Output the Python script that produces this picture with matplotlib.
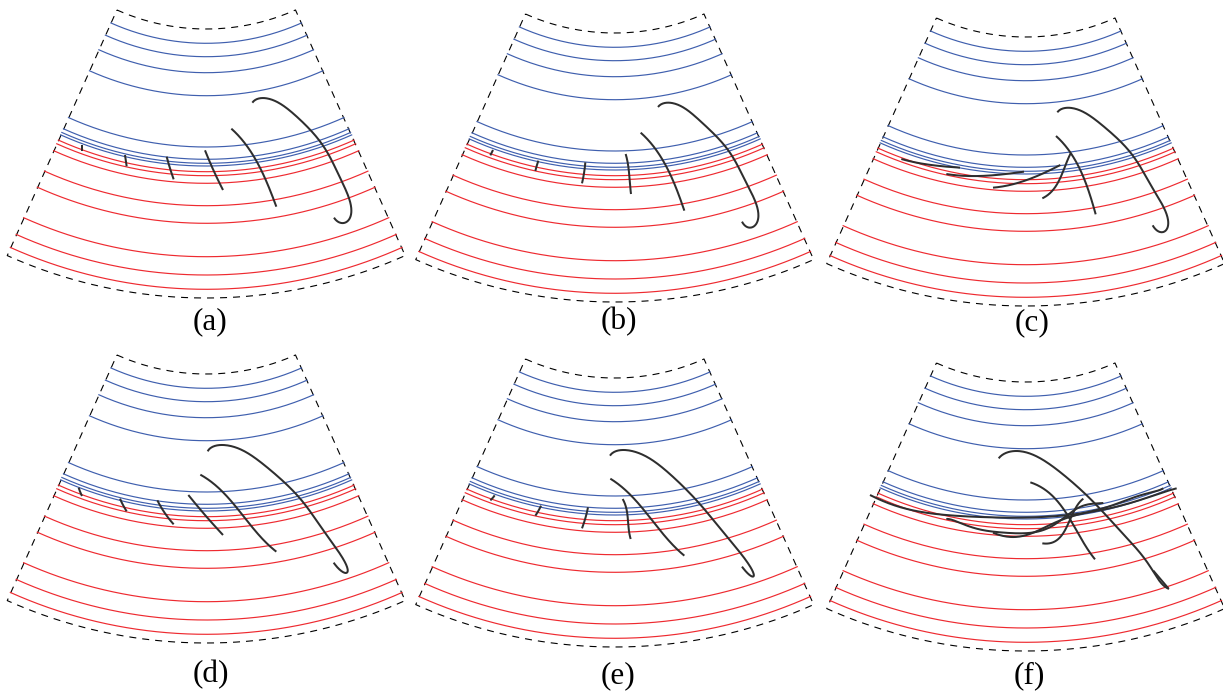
import numpy as np
import matplotlib
matplotlib.use("Agg")
import matplotlib.pyplot as plt
from numpy.polynomial import Polynomial

plt.rcParams['font.family'] = ['Liberation Serif', 'DejaVu Serif']

# Radii of the layer boundaries, measured from the fan apex (pixels)
blue_radii = [233.3, 246.7, 262.7, 285.7, 337.0, 349.3, 353.3, 356.0]
red_radii = [361.7, 365.7, 373.3, 395.7, 413.3, 446.7, 465.0, 479.3]
inner_radius = 219.0
outer_radius = 488.0
fan_half_angle = 24.06
arc_half_angle = 24.12

panel_names = ["(a)", "(b)", "(c)", "(d)", "(e)", "(f)"]
apex_x = [206.2, 614.7, 1025.7, 206.2, 614.7, 1025.7]
apex_y = [-190.0, -186.0, -182.0, 155.0, 159.0, 163.0]
crop_x = [0, 410, 820, 0, 410, 820]
crop_y = [0, 0, 0, 345, 345, 345]
label_x = [210, 619, 1032, 211, 618, 1029]
label_y = [322, 322, 323, 675, 676, 676]

# Ray paths, (x, y) at triple scale inside each panel
rays_a = [
    [(757,308),(785,295),(815,298),(860,325),(910,368),(960,425),(1000,490),(1035,565),(1052,625),(1052,655),(1040,670),(1022,665),(1002,653)],
    [(694,386),(725,415),(760,470),(795,535),(815,580),(829,620)],
    [(615,451),(640,510),(669,570)],
    [(500,470),(510,505),(521,538)],
    [(375,465),(378,485),(380,499)],
    [(245,434),(245,453)],
]
rays_b = [
    [(744,321),(770,309),(800,312),(850,345),(900,390),(950,445),(990,510),(1025,580),(1043,640),(1043,670),(1030,684),(1012,678),(996,665)],
    [(692,398),(725,430),(760,485),(795,560),(815,600),(823,632)],
    [(647,462),(655,500),(659,540),(663,582)],
    [(526,487),(522,520),(516,550)],
    [(385,482),(380,498),(376,513)],
    [(249,450),(245,458),(241,466)],
]
rays_c = [
    [(712,337),(740,324),(770,327),(820,355),(870,395),(920,445),(970,515),(1010,585),(1040,650),(1046,680),(1038,698),(1020,692),(998,676)],
    [(708,408),(740,440),(770,490),(800,560),(820,610),(827,643)],
    [(752,460),(735,500),(715,545),(695,575),(667,595)],
    [(721,495),(670,520),(620,540),(570,555),(519,563)],
    [(612,515),(540,524),(470,528),(420,527),(379,522)],
    [(420,503),(350,497),(290,488),(244,477)],
]
rays_d = [
    [(623,319),(645,304),(675,300),(720,312),(780,350),(840,400),(890,450),(950,525),(1000,600),(1035,655),(1050,680),(1043,690),(1025,675),(1001,653)],
    [(601,389),(640,415),(690,465),(740,525),(790,585),(829,620)],
    [(565,450),(615,510),(669,570)],
    [(472,466),(495,505),(521,538)],
    [(360,461),(370,482),(380,499)],
    [(236,428),(241,442),(246,453)],
]
rays_e = [
    [(600,332),(620,319),(650,315),(700,330),(760,370),(820,425),(880,490),(940,560),(990,625),(1025,675),(1040,697),(1030,698),(1010,682),(996,665)],
    [(601,401),(640,430),(690,480),(740,545),(790,600),(823,632)],
    [(638,462),(650,495),(655,540),(662,582)],
    [(534,487),(526,520),(516,550)],
    [(393,482),(385,498),(376,512)],
    [(254,451),(248,459),(241,466)],
]
rays_f = [
    [(536,340),(560,323),(595,318),(640,330),(700,365),(760,415),(820,470),(880,535),(940,600),(1000,680),(1047,732)],
    [(1000,677),(1022,703),(1045,730)],
    [(631,412),(670,430),(710,465),(750,525),(790,590),(825,643)],
    [(790,461),(770,480),(750,530),(720,575),(695,595),(667,595)],
    [(519,563),(570,576),(610,572),(660,555),(710,530),(770,510),(810,500),(850,490),(900,472),(950,455),(990,443),(1030,430)],
    [(379,522),(450,545),(520,560),(600,565),(670,555),(730,520),(760,497),(790,482),(820,476),(850,474)],
    [(150,450),(220,480),(300,500),(400,512),(520,517),(640,517),(730,512),(800,502),(870,490),(960,465),(1070,430)],
]
all_rays = [rays_a, rays_b, rays_c, rays_d, rays_e, rays_f]

BLUE = "#3f5fae"
RED = "#ee2a30"
INK = "#2e2e2e"


def smooth_xy(pts):
    """Smooth parametric least-squares curve through the read points."""
    p = np.asarray(pts, float)
    n = len(p)
    if n <= 3:
        deg = n - 1
    elif n <= 6:
        deg = 3
    else:
        deg = max(4, min(n - 3, 8))
    s = np.r_[0, np.cumsum(np.hypot(*np.diff(p, axis=0).T))]
    w = np.ones(n)
    w[[0, -1]] = 5
    t = np.linspace(0, s[-1], 200)
    fx = Polynomial.fit(s, p[:, 0], deg, w=w)
    fy = Polynomial.fit(s, p[:, 1], deg, w=w)
    return fx(t), fy(t)


def arc_xy(cx, cy, r, half):
    t = np.radians(np.linspace(-half, half, 160))
    return cx + r * np.sin(t), cy + r * np.cos(t)


fig = plt.figure(figsize=(12.23, 6.91), dpi=100)
ax = fig.add_axes([0, 0, 1, 1])
ax.set_xlim(0, 1223)
ax.set_ylim(691, 0)
ax.axis("off")

for i, name in enumerate(panel_names):
    cx, cy = apex_x[i], apex_y[i]
    x1, y1 = arc_xy(cx, cy, inner_radius, fan_half_angle)
    x2, y2 = arc_xy(cx, cy, outer_radius, fan_half_angle)
    ax.plot(np.r_[x1, x2[::-1], x1[0]], np.r_[y1, y2[::-1], y1[0]],
            color="black", lw=0.8, ls=(0, (6.3, 5.4)), zorder=1)
    for r in blue_radii:
        ax.plot(*arc_xy(cx, cy, r, arc_half_angle), color=BLUE, lw=0.85, zorder=2)
    for r in red_radii:
        ax.plot(*arc_xy(cx, cy, r, arc_half_angle), color=RED, lw=0.85, zorder=2)
    for ray in all_rays[i]:
        x, y = smooth_xy(ray)
        ax.plot(crop_x[i] + x / 3, crop_y[i] + y / 3, color=INK, lw=1.45,
                solid_capstyle="butt", zorder=3)
    ax.text(label_x[i], label_y[i], name, fontsize=22.5, color="black",
            ha="center", va="center")

fig.savefig("out.png", dpi=100)
